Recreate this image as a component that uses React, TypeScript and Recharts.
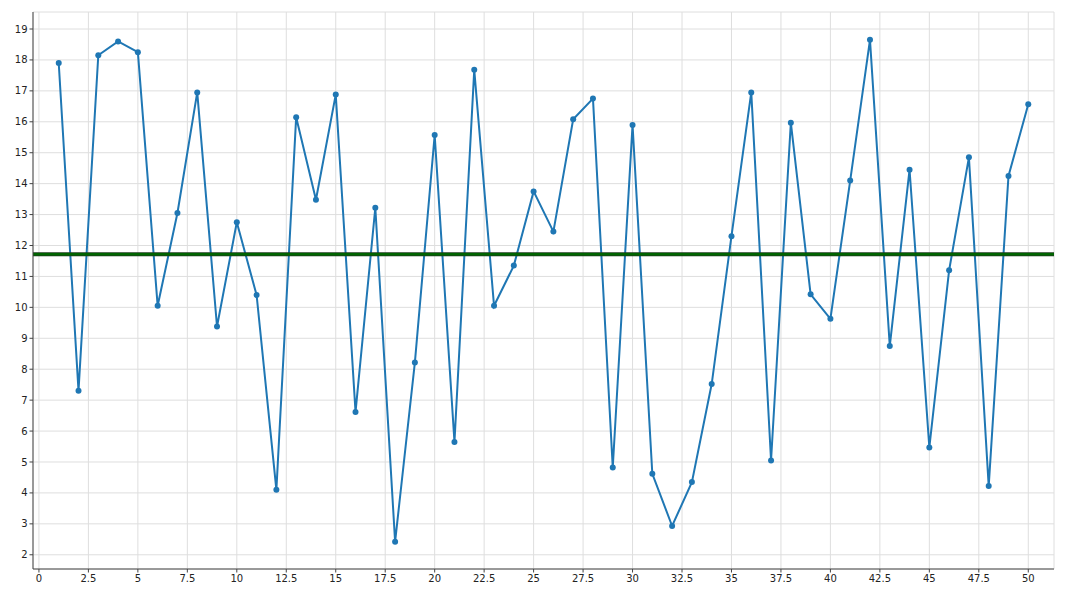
import { LineChart, Line, XAxis, YAxis, CartesianGrid, ReferenceLine } from 'recharts';

// values, x = 1..50
const X_VALUES = Array.from({ length: 50 }, (_, i) => i + 1);
const Y_VALUES = [
  17.9, 7.3, 18.15, 18.6, 18.25, 10.05, 13.05, 16.95, 9.38, 12.75,
  10.4, 4.1, 16.15, 13.48, 16.88, 6.62, 13.22, 2.42, 8.22, 15.57,
  5.65, 17.68, 10.05, 11.35, 13.75, 12.45, 16.08, 16.75, 4.82, 15.9,
  4.62, 2.93, 4.35, 7.52, 12.3, 16.95, 5.05, 15.97, 10.42, 9.63,
  14.1, 18.65, 8.75, 14.45, 5.47, 11.2, 14.85, 4.22, 14.25, 16.57,
];
const MEAN_VALUE = 11.72;

const X_TICKS = [0, 2.5, 5, 7.5, 10, 12.5, 15, 17.5, 20, 22.5, 25, 27.5, 30, 32.5, 35, 37.5, 40, 42.5, 45, 47.5, 50];
const Y_TICKS = [2, 3, 4, 5, 6, 7, 8, 9, 10, 11, 12, 13, 14, 15, 16, 17, 18, 19];
const X_MINOR = Array.from({ length: 103 }, (_, i) => i * 0.5);
const Y_MINOR = Array.from({ length: 90 }, (_, i) => Math.round((1.6 + i * 0.2) * 10) / 10);

const X_DOMAIN: [number, number] = [-0.3, 51.3];
const Y_DOMAIN: [number, number] = [1.54, 19.55];

const data = X_VALUES.map((x, i) => ({ x, value: Y_VALUES[i] }));

const SPINE = '#444444';
const TEXT = '#222222';
const FONT = { fontFamily: 'DejaVu Sans', fontSize: 10, fill: TEXT };
const empty = () => <g />;

export default function App() {
  return (
    <div style={{ position: 'absolute', left: 0, top: 0, width: 1066, height: 600, background: '#fff' }}>
      <LineChart width={1066} height={600} data={data} margin={{ top: 12, right: 12, bottom: 0, left: 0 }}>
        <CartesianGrid stroke="#dedede" strokeWidth={1} />
        <XAxis type="number" dataKey="x" domain={X_DOMAIN} ticks={X_TICKS} allowDataOverflow interval={0}
          height={31} tickSize={3.5} tickMargin={2} tick={FONT} axisLine={{ stroke: SPINE }} tickLine={{ stroke: SPINE }} />
        <YAxis type="number" domain={Y_DOMAIN} ticks={Y_TICKS} allowDataOverflow interval={0}
          width={33} tickSize={3.5} tickMargin={2} tick={FONT} axisLine={{ stroke: SPINE }} tickLine={{ stroke: SPINE }} />
        {/* minor ticks: mirrored so they sit on the spine, negative size turns them outward */}
        <XAxis xAxisId="minor" mirror type="number" dataKey="x" domain={X_DOMAIN} ticks={X_MINOR} allowDataOverflow
          height={0} tickSize={-2} tick={empty} axisLine={false} tickLine={{ stroke: SPINE }} interval={0} />
        <YAxis yAxisId="minor" mirror type="number" domain={Y_DOMAIN} ticks={Y_MINOR} allowDataOverflow
          width={0} tickSize={-2} tick={empty} axisLine={false} tickLine={{ stroke: SPINE }} interval={0} />
        <XAxis xAxisId="top" orientation="top" type="number" domain={X_DOMAIN} height={0} tick={false} tickLine={false}
          axisLine={{ stroke: SPINE }} />
        <YAxis yAxisId="right" orientation="right" type="number" domain={Y_DOMAIN} width={0} tick={false} tickLine={false}
          axisLine={{ stroke: SPINE }} />
        <Line type="linear" dataKey="value" stroke="#1f77b4" strokeWidth={2}
          dot={{ r: 3, fill: '#1f77b4', stroke: '#1f77b4', strokeWidth: 0 }} isAnimationActive={false} />
        <ReferenceLine y={MEAN_VALUE} stroke="#1e3d1e" strokeWidth={4} />
        <ReferenceLine y={MEAN_VALUE} stroke="#006400" strokeWidth={2.5} />
      </LineChart>
    </div>
  );
}
